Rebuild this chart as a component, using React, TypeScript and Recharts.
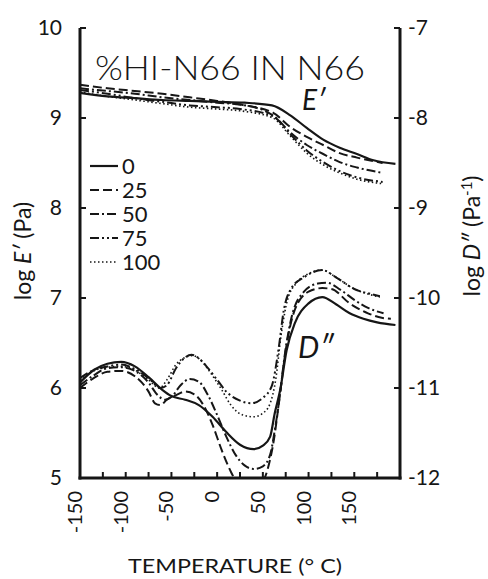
import { LineChart, Line, XAxis, YAxis, Legend } from 'recharts'

const FONT = 'Lato, "DejaVu Sans", sans-serif'
const INK = '#161616'

// % HI-N66 in N66
const compositions = ['0', '25', '50', '75', '100']

// log E' (Pa), left axis
const e0Temps = [-150, -120, -90, -60, -30, 0, 30, 60, 80, 98, 116, 134, 153, 171, 195]
const e0Vals = [9.28, 9.24, 9.22, 9.2, 9.19, 9.18, 9.17, 9.14, 9.03, 8.89, 8.76, 8.67, 8.6, 8.53, 8.49]
const eTemps = [-150, -120, -90, -60, -30, 0, 25, 61, 80, 98, 116, 134, 153, 181]
const e25Vals = [9.37, 9.33, 9.3, 9.27, 9.23, 9.19, 9.15, 9.06, 8.9, 8.79, 8.7, 8.61, 8.56, 8.5]
const e50Vals = [9.33, 9.3, 9.27, 9.23, 9.2, 9.17, 9.15, 9.03, 8.84, 8.7, 8.6, 8.51, 8.45, 8.39]
const e75Vals = [9.31, 9.27, 9.22, 9.18, 9.14, 9.12, 9.1, 9.02, 8.82, 8.64, 8.51, 8.41, 8.34, 8.29]
const e100Vals = [9.29, 9.24, 9.2, 9.16, 9.12, 9.1, 9.08, 9.0, 8.8, 8.61, 8.48, 8.39, 8.32, 8.27]

// log D'' (Pa^-1), right axis
const d0Temps = [-150, -135, -120, -105, -90, -75, -60, -50, -35, -20, -5, 10, 25, 40, 50, 58, 63, 69, 76, 85, 100, 115, 130, 145, 160, 175, 195]
const d0Vals = [-10.94, -10.8, -10.73, -10.71, -10.76, -10.88, -11.02, -11.09, -11.13, -11.19, -11.32, -11.49, -11.63, -11.68, -11.64, -11.54, -11.28, -11.02, -10.58, -10.28, -10.06, -9.99, -10.07, -10.17, -10.23, -10.27, -10.3]
const d25Temps = [-150, -135, -120, -105, -90, -75, -68, -62, -55, -45, -35, -25, -15, -5, 5, 15, 25, 35, 45, 55, 62, 68, 75, 85, 100, 115, 125, 145, 165, 180, 190]
const d25Vals = [-11.0, -10.89, -10.82, -10.81, -10.87, -11.04, -11.17, -11.19, -11.13, -11.08, -11.04, -11.07, -11.19, -11.41, -11.69, -11.93, -12.1, -12.16, -12.11, -11.91, -11.58, -11.13, -10.58, -10.13, -9.93, -9.89, -9.9, -10.06, -10.17, -10.22, -10.23]
const d50Temps = [-150, -135, -120, -105, -90, -75, -65, -57, -50, -40, -30, -20, -10, 0, 10, 20, 30, 40, 50, 58, 63, 68, 74, 82, 95, 110, 120, 135, 150, 165, 182]
const d50Vals = [-10.97, -10.86, -10.78, -10.77, -10.81, -10.94, -11.08, -11.13, -11.1, -10.97, -10.9, -10.93, -11.08, -11.3, -11.54, -11.74, -11.86, -11.9, -11.87, -11.74, -11.47, -11.13, -10.63, -10.19, -9.93, -9.84, -9.83, -9.91, -10.02, -10.11, -10.17]
const d75Temps = [-150, -135, -120, -105, -90, -75, -62, -55, -45, -35, -28, -20, -10, 0, 10, 25, 37, 50, 60, 67, 73, 80, 95, 115, 130, 150, 170, 178]
const d75Vals = [-10.89, -10.8, -10.76, -10.74, -10.79, -10.89, -11.0, -10.97, -10.78, -10.66, -10.63, -10.67, -10.78, -10.91, -11.04, -11.14, -11.17, -11.11, -10.97, -10.58, -10.13, -9.91, -9.77, -9.69, -9.77, -9.9, -9.96, -9.98]
const d100Temps = [-150, -135, -120, -105, -90, -75, -63, -55, -45, -35, -27, -18, -8, 5, 15, 28, 40, 50, 58, 64, 70, 77, 87, 100, 115, 130, 150, 170, 178]
const d100Vals = [-10.91, -10.81, -10.77, -10.76, -10.8, -10.91, -11.0, -10.91, -10.74, -10.66, -10.64, -10.69, -10.82, -11.02, -11.19, -11.3, -11.32, -11.28, -11.17, -10.91, -10.41, -10.02, -9.83, -9.73, -9.69, -9.77, -9.9, -9.97, -9.99]

const xDomain = [-150, 200]
const eDomain = [5, 10]
const dDomain = [-12, -7]
const xTicks = [-150, -125, -100, -75, -50, -25, 0, 25, 50, 75, 100, 125, 150, 175]
const eTicks = [5, 6, 7, 8, 9, 10]
const dTicks = [-12, -11, -10, -9, -8, -7]

const pairs = (temps: number[], vals: number[]) => temps.map((t, i) => ({ t, v: vals[i] }))

const styles = [
  { dash: undefined, width: 2.2 },
  { dash: '9 4', width: 2 },
  { dash: '9 3 2 3', width: 2 },
  { dash: '9 3 2 3 2 3', width: 2 },
  { dash: '1.5 2.5', width: 1.6 },
]

const eSeries = [
  pairs(e0Temps, e0Vals),
  pairs(eTemps, e25Vals),
  pairs(eTemps, e50Vals),
  pairs(eTemps, e75Vals),
  pairs(eTemps, e100Vals),
]
const dSeries = [
  pairs(d0Temps, d0Vals),
  pairs(d25Temps, d25Vals),
  pairs(d50Temps, d50Vals),
  pairs(d75Temps, d75Vals),
  pairs(d100Temps, d100Vals),
]

// plot box; chart margins are derived from it so the frame below lines up
const W = 488
const H = 579
const BOX = { left: 80, right: 400, top: 28, bottom: 478 }
const Y_W = 60
const X_H = 60
const TICK = 6
const AXIS_W = 3
const TICK_W = 2

const sx = (t: number) => BOX.left + ((t - xDomain[0]) / (xDomain[1] - xDomain[0])) * (BOX.right - BOX.left)
const sy = (v: number, dom: number[]) => BOX.bottom - ((v - dom[0]) / (dom[1] - dom[0])) * (BOX.bottom - BOX.top)

function XTick({ x, y, payload }: any) {
  const v = payload.value
  if (Math.abs(v % 50) !== 0 || v > 150) return <g />
  const px = x - 5
  return (
    <text
      x={px}
      y={y}
      transform={`rotate(-90 ${px} ${y})`}
      textAnchor="end"
      dy="0.35em"
      fontSize={20}
      fontFamily={FONT}
      fill={INK}
    >
      {v}
    </text>
  )
}

function SideTick({ x, y, payload, textAnchor }: any) {
  return (
    <text x={x} y={y} dy="0.35em" textAnchor={textAnchor} fontSize={21} fontFamily={FONT} fill={INK}>
      {payload.value}
    </text>
  )
}

function LegendBox() {
  return (
    <svg width={100} height={125} style={{ overflow: 'visible' }}>
      {compositions.map((c, i) => {
        const y = 11 + 24 * i
        return (
          <g key={c}>
            <line
              x1={2}
              x2={30}
              y1={y}
              y2={y}
              stroke={INK}
              strokeWidth={styles[i].width}
              strokeDasharray={styles[i].dash}
            />
            <text x={34} y={y + 8} fontSize={22} fontFamily={FONT} fill={INK}>
              {c}
            </text>
          </g>
        )
      })}
    </svg>
  )
}

export default function App() {
  const margin = {
    top: BOX.top,
    left: BOX.left - Y_W,
    right: W - BOX.right - Y_W,
    bottom: H - BOX.bottom - X_H,
  }
  const half = AXIS_W / 2

  return (
    <div style={{ position: 'absolute', left: 0, top: 0, width: W, height: H, background: '#fff' }}>
      <style>{'.recharts-line{clip-path:none}'}</style>
      <LineChart width={W} height={H} margin={margin}>
        <XAxis
          dataKey="t"
          type="number"
          domain={xDomain}
          ticks={xTicks}
          interval={0}
          tick={<XTick />}
          tickSize={0}
          tickMargin={13}
          height={X_H}
          axisLine={false}
          tickLine={false}
        />
        <YAxis
          yAxisId="e"
          type="number"
          domain={eDomain}
          ticks={eTicks}
          interval={0}
          tick={<SideTick />}
          tickSize={0}
          tickMargin={18}
          width={Y_W}
          axisLine={false}
          tickLine={false}
        />
        <YAxis
          yAxisId="d"
          orientation="right"
          type="number"
          domain={dDomain}
          allowDataOverflow
          ticks={dTicks}
          interval={0}
          tick={<SideTick />}
          tickSize={0}
          tickMargin={8}
          width={Y_W}
          axisLine={false}
          tickLine={false}
        />
        <Legend
          layout="vertical"
          align="center"
          verticalAlign="middle"
          content={<LegendBox />}
          wrapperStyle={{ position: 'absolute', left: 88, top: 155, width: 100, height: 125 }}
        />
        {eSeries.map((data, i) => (
          <Line
            key={'e' + i}
            yAxisId="e"
            data={data}
            dataKey="v"
            name={compositions[i]}
            type="monotone"
            stroke={INK}
            strokeWidth={styles[i].width}
            strokeDasharray={styles[i].dash}
            dot={false}
            isAnimationActive={false}
          />
        ))}
        {dSeries.map((data, i) => (
          <Line
            key={'d' + i}
            yAxisId="d"
            data={data}
            dataKey="v"
            name={compositions[i]}
            type="monotone"
            stroke={INK}
            strokeWidth={styles[i].width}
            strokeDasharray={styles[i].dash}
            dot={false}
            isAnimationActive={false}
            legendType="none"
          />
        ))}
      </LineChart>
      <svg
        width={W}
        height={H}
        style={{ position: 'absolute', left: 0, top: 0, pointerEvents: 'none' }}
        fontFamily={FONT}
        fill={INK}
      >
        {/* frame as filled bars: open at the top, ticks point inward */}
        <g fill={INK} stroke="none">
          <rect x={BOX.left - half} y={BOX.top} width={AXIS_W} height={BOX.bottom - BOX.top + half} />
          <rect x={BOX.right - half} y={BOX.top} width={AXIS_W} height={BOX.bottom - BOX.top + half} />
          <rect x={BOX.left - half} y={BOX.bottom - half} width={BOX.right - BOX.left + AXIS_W} height={AXIS_W} />
          {xTicks.map((t) => (
            <rect key={'xt' + t} x={sx(t) - TICK_W / 2} y={BOX.bottom - TICK} width={TICK_W} height={TICK} />
          ))}
          {eTicks.map((v) => (
            <rect key={'et' + v} x={BOX.left} y={sy(v, eDomain) - TICK_W / 2} width={TICK} height={TICK_W} />
          ))}
          {dTicks.map((v) => (
            <rect key={'dt' + v} x={BOX.right - TICK} y={sy(v, dDomain) - TICK_W / 2} width={TICK} height={TICK_W} />
          ))}
        </g>
        <text x={95} y={80} fontSize={34} fontWeight={300} textLength={270} lengthAdjust="spacingAndGlyphs">
          %HI-N66 IN N66
        </text>
        <text x={302} y={110} fontSize={28} fontStyle="italic">
          E′
        </text>
        <text x={298} y={358} fontSize={30} fontStyle="italic">
          D″
        </text>
        <text x={31} y={251} fontSize={23} textAnchor="middle" transform="rotate(-90 31 251)">
          log <tspan fontStyle="italic">E′</tspan> (Pa)
        </text>
        <text x={480} y={236} fontSize={23} textAnchor="middle" transform="rotate(-90 480 236)">
          log <tspan fontStyle="italic">D″</tspan> (Pa<tspan dy={-8} fontSize={15}>-1</tspan>
          <tspan dy={8}>)</tspan>
        </text>
        <text x={235} y={573} fontSize={20} textAnchor="middle" textLength={214} lengthAdjust="spacingAndGlyphs">
          TEMPERATURE (° C)
        </text>
      </svg>
    </div>
  )
}
